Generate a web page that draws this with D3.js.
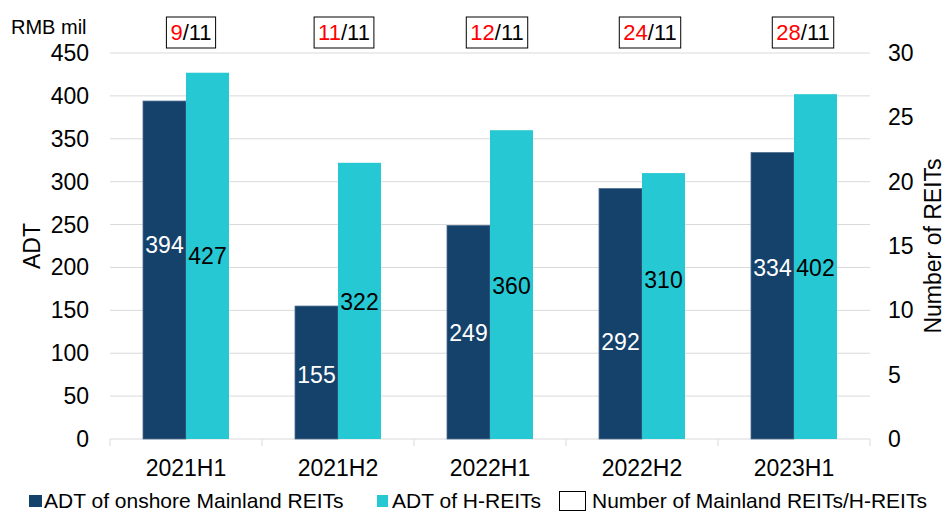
<!DOCTYPE html>
<html lang="en">
<head>
<meta charset="UTF-8" />
<title>ADT of REITs</title>
<script src="https://d3js.org/d3.v7.min.js"></script>
<style>
  body { margin: 0; background: #fff; }
  svg { font-family: "Liberation Sans", Arial, sans-serif; }
  .grid line { stroke: #d9d9d9; stroke-width: 1px; }
  .tick-label { font-size: 23px; fill: #000; }
  .val { font-size: 23px; text-anchor: middle; }
  .box-text { font-size: 22px; text-anchor: middle; }
  .legend text { font-size: 21px; fill: #000; }
</style>
</head>
<body>
<svg width="946" height="511"></svg>
<script>
// data
const periods = ["2021H1", "2021H2", "2022H1", "2022H2", "2023H1"];
const adtMainland = [394, 155, 249, 292, 334];
const adtHREITs = [427, 322, 360, 310, 402];
const numMainland = [9, 11, 12, 24, 28];
const numHREITs = [11, 11, 11, 11, 11];
const leftTicks = [0, 50, 100, 150, 200, 250, 300, 350, 400, 450];
const rightTicks = [0, 5, 10, 15, 20, 25, 30];

const colDark = "#15426b";
const colCyan = "#26c9d3";

const svg = d3.select("svg");
const plotL = 110, plotR = 870, plotT = 53, plotB = 439;

const x = d3.scaleBand().domain(periods).range([plotL, plotR]);
const y = d3.scaleLinear().domain([0, 450]).range([plotB, plotT]);
const y2 = d3.scaleLinear().domain([0, 30]).range([plotB, plotT]);
const barW = 43;

// gridlines
svg.append("g").attr("class", "grid")
  .selectAll("line").data(leftTicks).join("line")
  .attr("x1", plotL).attr("x2", plotR)
  .attr("y1", d => y(d)).attr("y2", d => y(d));

// x tick marks between categories
svg.append("g").attr("class", "grid")
  .selectAll("line").data(d3.range(periods.length + 1)).join("line")
  .attr("x1", i => plotL + i * x.bandwidth()).attr("x2", i => plotL + i * x.bandwidth())
  .attr("y1", plotB).attr("y2", plotB + 7);

// left axis labels
svg.append("g").selectAll("text").data(leftTicks).join("text")
  .attr("class", "tick-label")
  .attr("x", 89).attr("y", d => y(d)).attr("dy", "0.35em")
  .attr("text-anchor", "end").text(d => d);

// right axis labels
svg.append("g").selectAll("text").data(rightTicks).join("text")
  .attr("class", "tick-label")
  .attr("x", 888).attr("y", d => y2(d)).attr("dy", "0.35em")
  .attr("text-anchor", "start").text(d => d);

// category labels
svg.append("g").selectAll("text").data(periods).join("text")
  .attr("class", "tick-label")
  .attr("x", d => x(d) + x.bandwidth() / 2).attr("y", 468).attr("dy", "0.35em")
  .attr("text-anchor", "middle").text(d => d);

// axis titles
svg.append("text").attr("x", 11).attr("y", 27).attr("font-size", 20)
  .attr("dy", "0.35em").text("RMB mil");
svg.append("text").attr("class", "tick-label")
  .attr("transform", "translate(32,246) rotate(-90)")
  .attr("text-anchor", "middle").attr("dy", "0.35em").text("ADT");
svg.append("text").attr("class", "tick-label")
  .attr("transform", "translate(933,246) rotate(-90)")
  .attr("text-anchor", "middle").attr("dy", "0.35em").text("Number of REITs");

// bars
const cx = d => x(d) + x.bandwidth() / 2;
svg.append("g").selectAll("rect").data(periods).join("rect")
  .attr("x", d => cx(d) - barW).attr("width", barW)
  .attr("y", (d, i) => y(adtMainland[i])).attr("height", (d, i) => plotB - y(adtMainland[i]))
  .attr("fill", colDark).attr("stroke", "#4f6f8f").attr("stroke-width", 0.8);
svg.append("g").selectAll("rect").data(periods).join("rect")
  .attr("x", d => cx(d)).attr("width", barW)
  .attr("y", (d, i) => y(adtHREITs[i])).attr("height", (d, i) => plotB - y(adtHREITs[i]))
  .attr("fill", colCyan);

// value labels (hand placed in the original, expressed in ADT units)
const darkLabelAt = [226, 75, 124, 113, 199];
const cyanLabelAt = [213, 160, 178, 185, 199];
svg.append("g").selectAll("text").data(periods).join("text")
  .attr("class", "val").attr("fill", "#fff")
  .attr("x", d => cx(d) - barW / 2).attr("y", (d, i) => y(darkLabelAt[i])).attr("dy", "0.35em")
  .text((d, i) => adtMainland[i]);
svg.append("g").selectAll("text").data(periods).join("text")
  .attr("class", "val").attr("fill", "#000")
  .attr("x", d => cx(d) + barW / 2).attr("y", (d, i) => y(cyanLabelAt[i])).attr("dy", "0.35em")
  .text((d, i) => adtHREITs[i]);

// count boxes on top
const boxes = svg.append("g").selectAll("g").data(periods).join("g")
  .attr("transform", (d, i) => `translate(${cx(d) + 5 + i},32)`);
boxes.each(function (d, i) {
  const g = d3.select(this);
  const t = g.append("text").attr("class", "box-text").attr("dy", "0.35em");
  t.append("tspan").attr("fill", "#ff0000").text(numMainland[i]);
  t.append("tspan").attr("fill", "#000").text("/" + numHREITs[i]);
  const bb = t.node().getBBox();
  g.insert("rect", "text")
    .attr("x", bb.x - 4).attr("y", -15).attr("width", bb.width + 8).attr("height", 31)
    .attr("fill", "#fff").attr("stroke", "#000").attr("stroke-width", 1);
});

// legend
const lg = svg.append("g").attr("class", "legend");
lg.append("rect").attr("x", 29).attr("y", 495).attr("width", 13).attr("height", 12).attr("fill", colDark);
lg.append("text").attr("x", 44).attr("y", 501).attr("dy", "0.35em").text("ADT of onshore Mainland REITs");
lg.append("rect").attr("x", 377).attr("y", 495).attr("width", 11).attr("height", 12).attr("fill", colCyan);
lg.append("text").attr("x", 392).attr("y", 501).attr("dy", "0.35em").text("ADT of H-REITs");
lg.append("rect").attr("x", 559.5).attr("y", 491.5).attr("width", 26).attr("height", 19)
  .attr("fill", "#fff").attr("stroke", "#000").attr("stroke-width", 1);
lg.append("text").attr("x", 592).attr("y", 501).attr("dy", "0.35em").text("Number of Mainland REITs/H-REITs");
</script>
</body>
</html>
